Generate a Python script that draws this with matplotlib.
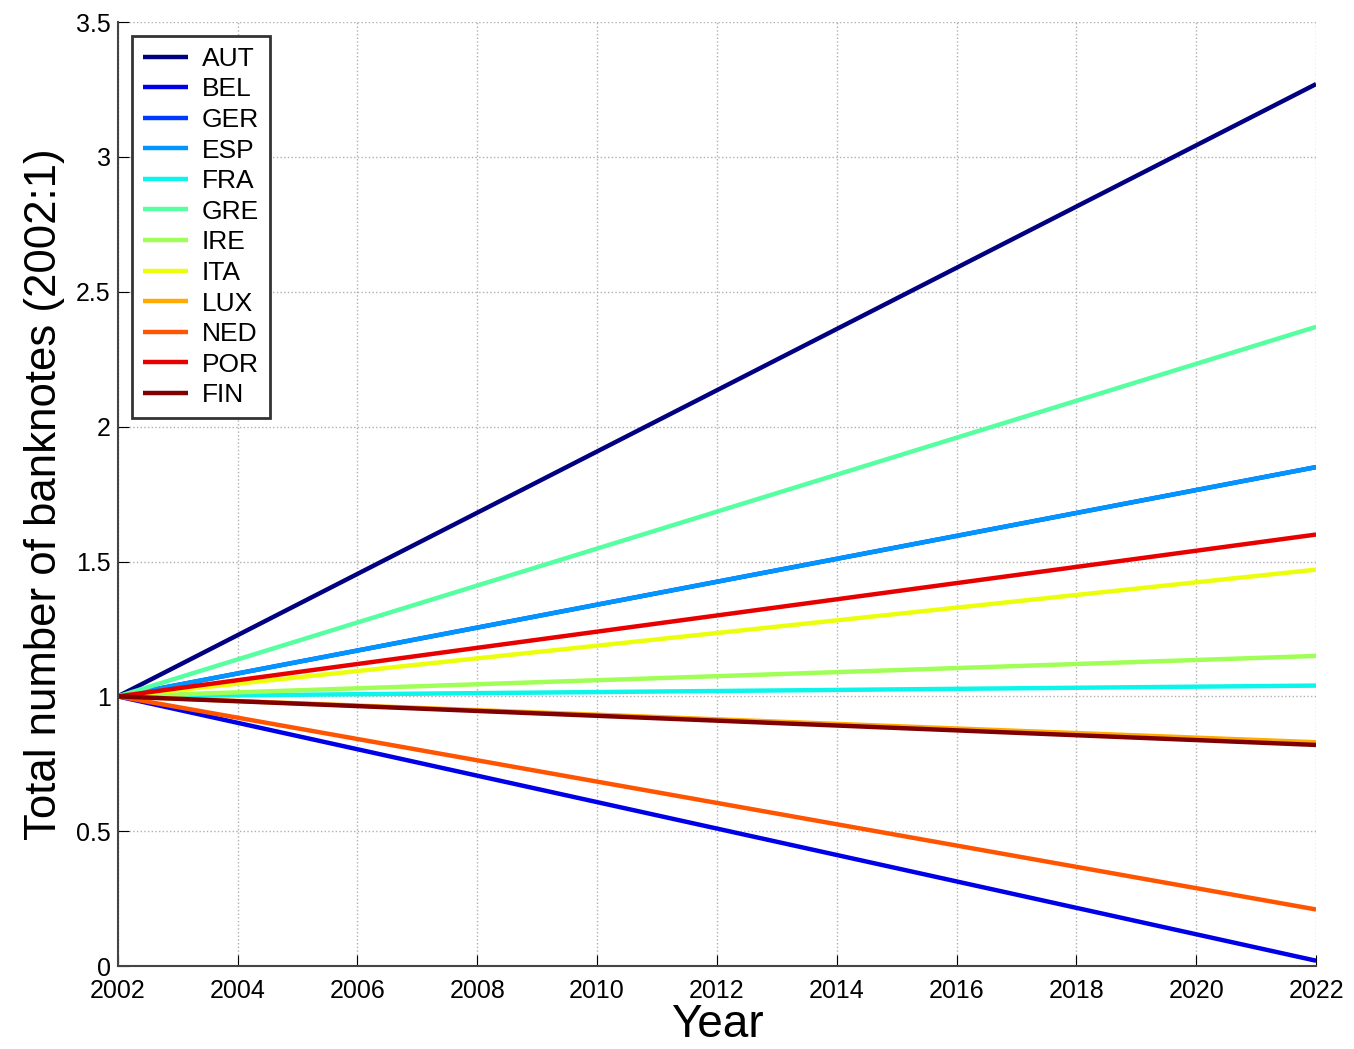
import numpy as np
import matplotlib.pyplot as plt

plt.rcParams['font.family'] = ['Liberation Sans', 'DejaVu Sans']

countries = ['AUT', 'BEL', 'GER', 'ESP', 'FRA', 'GRE',
             'IRE', 'ITA', 'LUX', 'NED', 'POR', 'FIN']
years = [2002, 2022]
start_values = [1, 1, 1, 1, 1, 1, 1, 1, 1, 1, 1, 1]
end_values = [3.27, 0.02, 1.85, 1.85, 1.04, 2.37,
              1.15, 1.47, 0.83, 0.21, 1.60, 0.82]

colors = plt.cm.jet(np.linspace(0, 1, len(countries)))

fig = plt.figure(figsize=(13.54, 10.49), dpi=100)
ax = fig.add_axes([0.087, 0.079, 0.885, 0.9])

for name, v0, v1, c in zip(countries, start_values, end_values, colors):
    ax.plot(years, [v0, v1], color=c, lw=3.2, label=name, solid_capstyle='butt')

ax.set_xlim(2002, 2022)
ax.set_ylim(0, 3.5)
ax.set_xticks(np.arange(2002, 2023, 2))
ax.set_yticks([0, 0.5, 1, 1.5, 2, 2.5, 3, 3.5])
ax.set_yticklabels(['0', '0.5', '1', '1.5', '2', '2.5', '3', '3.5'])
ax.tick_params(direction='in', length=8, labelsize=18)
ax.tick_params(axis='x', pad=9)
ax.tick_params(axis='y', pad=5)
ax.grid(True, linestyle=':', color='#b0b0b0', lw=1)

ax.spines['top'].set_visible(False)
ax.spines['right'].set_visible(False)
for s in ['left', 'bottom']:
    ax.spines[s].set_color('#444444')
    ax.spines[s].set_linewidth(1.5)

ax.set_xlabel('Year', fontsize=33, labelpad=0)
ax.set_ylabel('Total number of banknotes (2002:1)', fontsize=31.5, labelpad=8)

leg = ax.legend(loc='upper left', bbox_to_anchor=(0.012, 0.985), fontsize=19,
                handlelength=1.7, handletextpad=0.55, labelspacing=0.25,
                borderpad=0.4, borderaxespad=0,
                fancybox=False, framealpha=1)
leg.get_frame().set_edgecolor('#333333')
leg.get_frame().set_linewidth(2)

plt.savefig('out.png', dpi=100)
